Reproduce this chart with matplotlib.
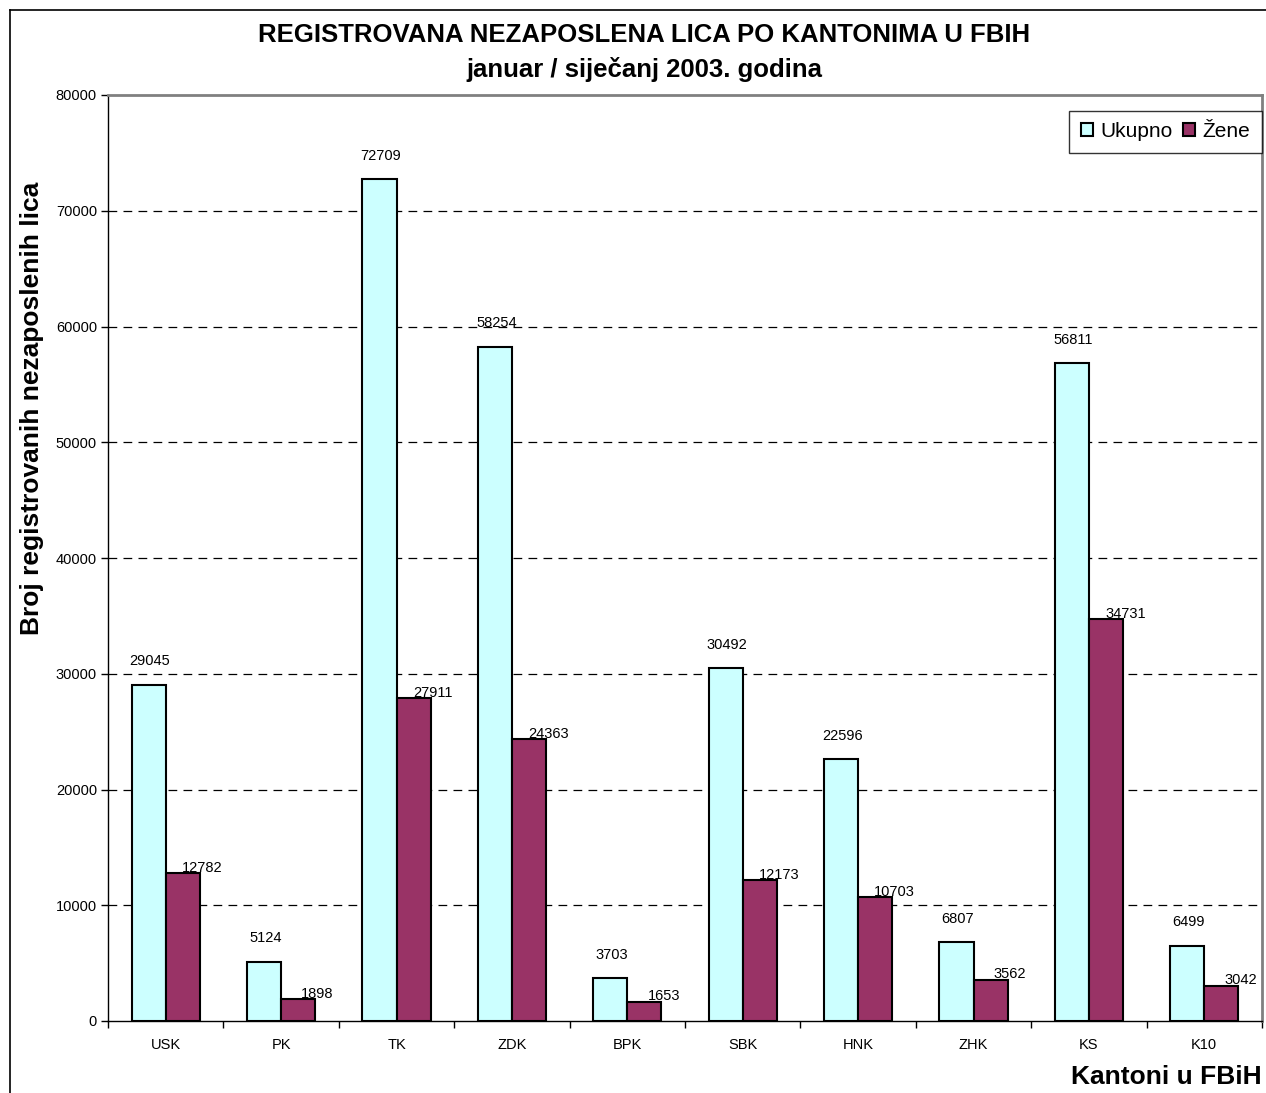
import matplotlib
matplotlib.use("Agg")
import matplotlib.pyplot as plt
import numpy as np
from matplotlib.lines import Line2D
from matplotlib.patches import Patch

plt.rcParams['font.family'] = ['Liberation Sans', 'DejaVu Sans']

categories = ["USK", "PK", "TK", "ZDK", "BPK", "SBK", "HNK", "ZHK", "KS", "K10"]
ukupno = [29045, 5124, 72709, 58254, 3703, 30492, 22596, 6807, 56811, 6499]
zene = [12782, 1898, 27911, 24363, 1653, 12173, 10703, 3562, 34731, 3042]
yticks = [0, 10000, 20000, 30000, 40000, 50000, 60000, 70000, 80000]
series_names = ["Ukupno", "Žene"]
colors = ["#CCFFFF", "#993366"]

W, H = 1266, 1093
fig = plt.figure(figsize=(W / 100, H / 100), dpi=100)
ax = fig.add_axes([108 / W, 1 - 1021 / H, (1262 - 108) / W, (1021 - 95) / H])

x = np.arange(len(categories))
bw = 0.295
ax.bar(x - bw / 2, ukupno, bw, color=colors[0], edgecolor="black", linewidth=1.5, zorder=3)
ax.bar(x + bw / 2, zene, bw, color=colors[1], edgecolor="black", linewidth=1.5, zorder=3)

for xi, v in zip(x, ukupno):
    ax.annotate(str(v), (xi - bw / 2, v), xytext=(1, 14), textcoords="offset points",
                ha="center", va="baseline", fontsize=10.5)
for xi, v in zip(x, zene):
    ax.annotate(str(v), (xi + bw / 2, v), xytext=(14, 1), textcoords="offset points",
                ha="center", va="baseline", fontsize=10.5)

ax.set_xlim(-0.5, len(categories) - 0.5)
ax.set_ylim(0, 80000)
ax.set_yticks(yticks)
ax.set_yticklabels([str(t) for t in yticks], fontsize=10.5)
ax.set_xticks(x)
ax.set_xticklabels(categories, fontsize=10.5)
ax.tick_params(axis="x", length=0, pad=12)
ax.set_xticks(np.arange(-0.5, len(categories), 1.0), minor=True)
ax.tick_params(axis="x", which="minor", length=5, direction="out", width=1)
ax.tick_params(axis="y", length=5, direction="out", width=1, pad=3)

for t in yticks[1:-1]:
    ax.axhline(t, color="black", linewidth=0.9, linestyle=(0, (7, 5)), zorder=1)

for s in ["top", "right"]:
    ax.spines[s].set_color("#808080")
    ax.spines[s].set_linewidth(2)
for s in ["left", "bottom"]:
    ax.spines[s].set_color("black")
    ax.spines[s].set_linewidth(1)

handles = [Patch(facecolor=colors[0], edgecolor="black", linewidth=1.5),
           Patch(facecolor=colors[1], edgecolor="black", linewidth=1.5)]
leg = ax.legend(handles, series_names, loc="upper right", bbox_to_anchor=(1.0, 0.983),
                fontsize=15, frameon=True, fancybox=False, shadow=False,
                ncol=2, handlelength=0.6, handleheight=0.6, handletextpad=0.35,
                columnspacing=0.5, borderpad=0.55, borderaxespad=0.0)
leg.get_frame().set_edgecolor("black")
leg.get_frame().set_linewidth(1)

fig.text(644 / W, 1 - 35 / H, "REGISTROVANA NEZAPOSLENA LICA PO KANTONIMA U FBIH",
         ha="center", va="center", fontsize=18.5, fontweight="bold")
fig.text(644 / W, 1 - 69 / H, "januar / siječanj 2003. godina",
         ha="center", va="center", fontsize=18.5, fontweight="bold")
fig.text(32 / W, 1 - 408 / H, "Broj registrovanih nezaposlenih lica",
         ha="center", va="center", rotation=90, fontsize=19, fontweight="bold")
fig.text(1262 / W, 1 - 1077 / H, "Kantoni u FBiH",
         ha="right", va="center", fontsize=19, fontweight="bold")

# outer chart frame
fig.add_artist(Line2D([10 / W, 10 / W], [0, 1 - 10 / H], transform=fig.transFigure,
                      color="black", linewidth=1.2))
fig.add_artist(Line2D([10 / W, 1], [1 - 10 / H, 1 - 10 / H], transform=fig.transFigure,
                      color="black", linewidth=1.2))

fig.savefig("out.png", dpi=100)
